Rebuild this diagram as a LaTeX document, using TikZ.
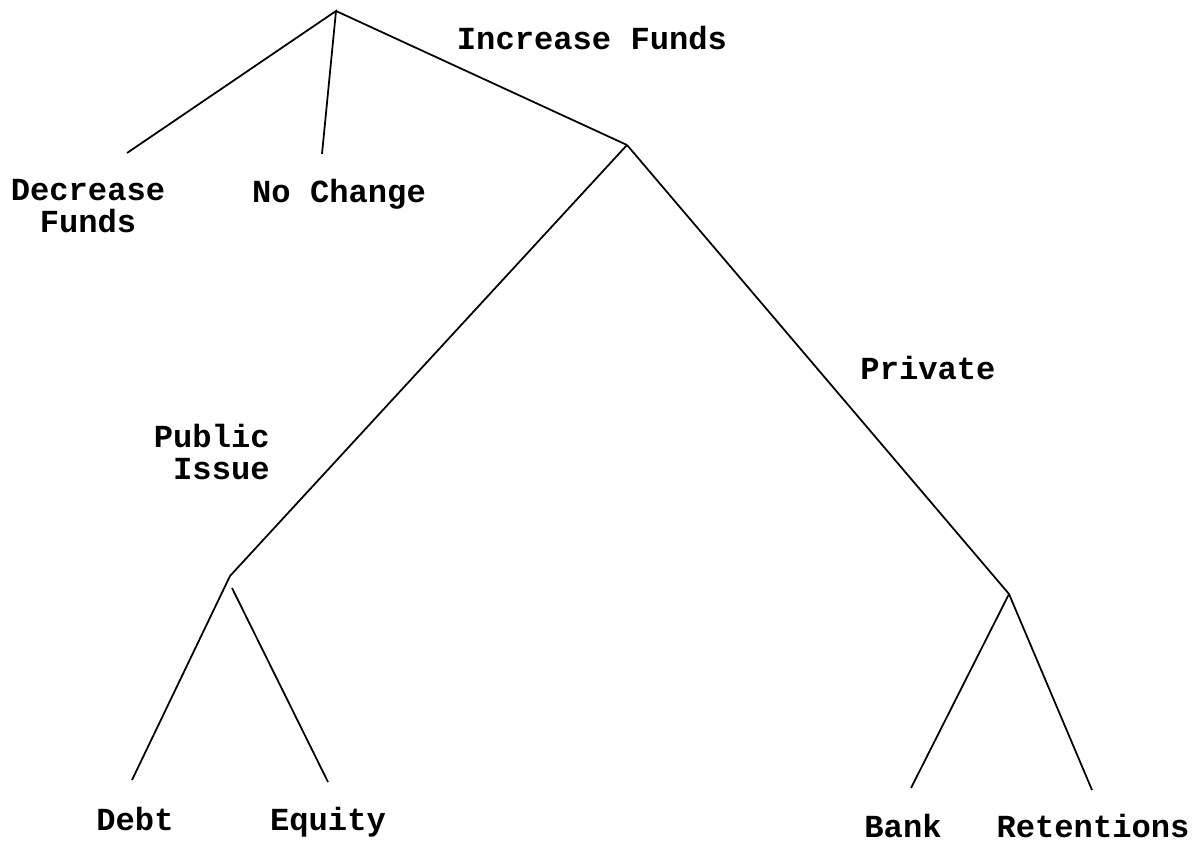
\documentclass[tikz,border=0pt]{standalone}
\usepackage{fontspec}
\setmainfont{Liberation Mono}
\begin{document}
\begin{tikzpicture}[x=0.02cm, y=-0.02cm,
                    choice/.style={font=\bfseries\fontsize{18.3}{18.2}\selectfont, inner sep=0pt},
                    branch/.style={line width=1pt}]
                    \useasboundingbox (0,0) rectangle (1195,844);
                    % branch points and free ends
                    \coordinate (root) at (336, 11);
                    \coordinate (incr) at (627, 145);
                    \coordinate (pub) at (230, 576);
                    \coordinate (pubeq) at (232, 588);
                    \coordinate (priv) at (1009, 594);
                    \coordinate (decend) at (127, 153);
                    \coordinate (ncend) at (322, 154);
                    \coordinate (debtend) at (132, 780);
                    \coordinate (eqend) at (328, 782);
                    \coordinate (bankend) at (911, 788);
                    \coordinate (retend) at (1092, 790);
                    % labels
                    \node [choice, anchor=base] (increase) at (592, 50){Increase Funds};
                    \node [choice, align=center] (decrease) at (88, 206){Decrease\\Funds};
                    \node [choice, anchor=base] (nochange) at (339, 203){No Change};
                    \node [choice] (private) at (928, 368){Private};
                    \node [choice, align=right, anchor=east] (public) at (270, 452){Public\\Issue};
                    \node [choice, anchor=base] (debt) at (135, 830){Debt};
                    \node [choice, anchor=base] (equity) at (328, 830){Equity};
                    \node [choice, anchor=base] (bank) at (903, 837){Bank};
                    \node [choice, anchor=base] (retentions) at (1093, 837){Retentions};
                    % tree
                    \draw [branch] (decend) -- (root) -- (ncend);
                    \draw [branch] (root) -- (incr);
                    \draw [branch] (incr) -- (pub) -- (debtend);
                    \draw [branch] (pubeq) -- (eqend);
                    \draw [branch] (incr) -- (priv) -- (bankend);
                    \draw [branch] (priv) -- (retend);
                \end{tikzpicture}
\end{document}
